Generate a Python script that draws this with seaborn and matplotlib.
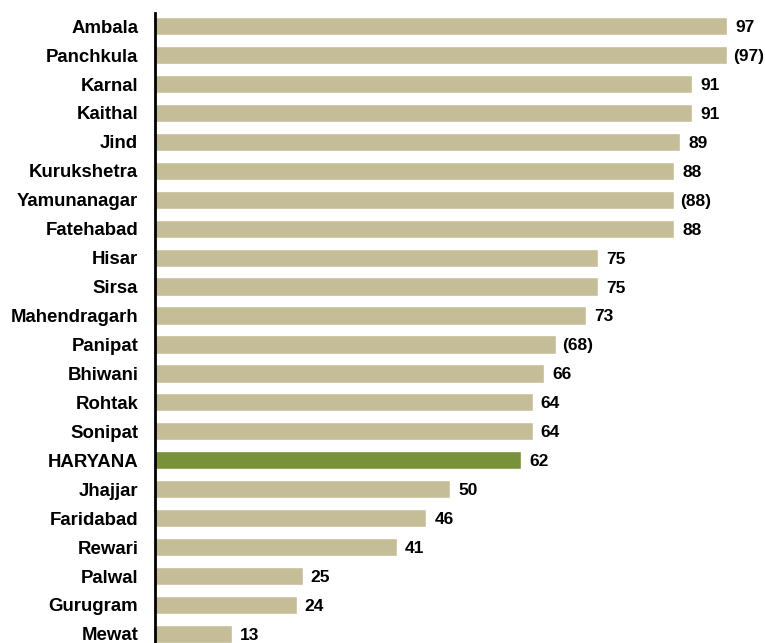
import matplotlib
matplotlib.use("Agg")
import matplotlib.pyplot as plt
import seaborn as sns
import pandas as pd

districts = ["Ambala", "Panchkula", "Karnal", "Kaithal", "Jind", "Kurukshetra",
             "Yamunanagar", "Fatehabad", "Hisar", "Sirsa", "Mahendragarh", "Panipat",
             "Bhiwani", "Rohtak", "Sonipat", "HARYANA", "Jhajjar", "Faridabad",
             "Rewari", "Palwal", "Gurugram", "Mewat"]
values = [97, 97, 91, 91, 89, 88, 88, 88, 75, 75, 73, 68, 66, 64, 64, 62, 50, 46, 41, 25, 24, 13]
value_labels = ["97", "(97)", "91", "91", "89", "88", "(88)", "88", "75", "75", "73", "(68)",
                "66", "64", "64", "62", "50", "46", "41", "25", "24", "13"]

df = pd.DataFrame({"district": districts, "value": values})
palette = {d: ("#77923A" if d == "HARYANA" else "#C5BC98") for d in districts}

sns.set_style("white")
plt.rcParams['font.family'] = ['Liberation Sans', 'DejaVu Sans']

fig = plt.figure(figsize=(7.65, 6.43), dpi=100)
ax = fig.add_axes([155 / 765, -0.0084, 610 / 765, 0.988])

sns.barplot(data=df, x="value", y="district", hue="district", palette=palette,
            width=0.63, legend=False, ax=ax, saturation=1)

ax.set_xlim(0, 610 / 5.9)
ax.set_ylim(21.5, -0.449)

for i, (v, lab) in enumerate(zip(values, value_labels)):
    x0 = v + (1.0 if lab.startswith("(") else 1.4)
    ax.text(x0, i + 0.05, lab, va="center", ha="left", fontsize=12.5,
            fontweight="bold", color="black")

ax.set_xlabel("")
ax.set_ylabel("")
ax.set_xticks([])
ax.tick_params(axis="y", length=0, pad=12, labelcolor="black")
for lbl in ax.get_yticklabels():
    lbl.set_fontweight("bold")
    lbl.set_fontsize(13.4)

for s in ["top", "right", "bottom"]:
    ax.spines[s].set_visible(False)
ax.spines["left"].set_color("black")
ax.spines["left"].set_linewidth(2)

fig.savefig("out.png", dpi=100)
